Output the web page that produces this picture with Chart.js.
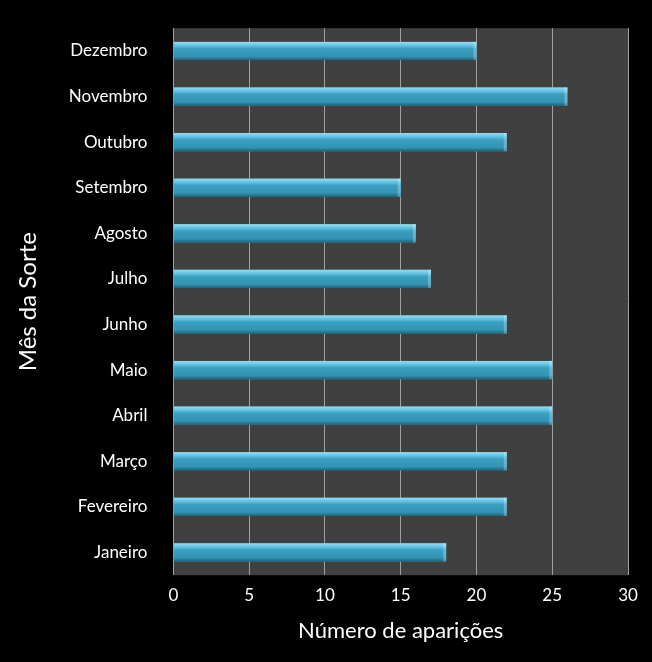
<!DOCTYPE html>
<html><head><meta charset="utf-8">
<script src="https://cdn.jsdelivr.net/npm/chart.js@4"></script>
<style>html,body{margin:0;background:#000;}#w{width:652px;height:662px;}</style>
</head><body><div id="w"><canvas id="c"></canvas></div>
<script>
const categories=["Dezembro","Novembro","Outubro","Setembro","Agosto","Julho","Junho","Maio","Abril","Março","Fevereiro","Janeiro"];
const values=[20,26,22,15,16,17,22,25,25,22,22,18];
const xTicks=[0,5,10,15,20,25,30];
const bgPlugin={id:'bg',beforeDraw(ch){const a=ch.chartArea,c=ch.ctx;c.save();c.fillStyle='#404040';c.fillRect(a.left,a.top,a.right-a.left,a.bottom-a.top);c.restore();},
afterDatasetsDraw(ch){const c=ch.ctx;ch.getDatasetMeta(0).data.forEach(el=>{
  const t=el.y-el.height/2,b=el.y+el.height/2,l=Math.min(el.base,el.x),r=Math.max(el.base,el.x);
  const g=c.createLinearGradient(0,t,0,b);
  g.addColorStop(0,'#9adcf2');g.addColorStop(0.22,'#5cc0e0');g.addColorStop(0.38,'#3a9fc0');g.addColorStop(0.8,'#3393b2');g.addColorStop(1,'#1d6278');
  c.save();c.fillStyle=g;c.fillRect(l,t,r-l,b-t);
  c.fillStyle='rgba(255,255,255,0.25)';c.fillRect(r-3,t,3,b-t);c.restore();});}};
new Chart(document.getElementById('c'),{type:'bar',
data:{labels:categories,datasets:[{data:values,backgroundColor:'#3a9ab8',categoryPercentage:1,barPercentage:0.4}]},
options:{indexAxis:'y',responsive:true,maintainAspectRatio:false,animation:false,
layout:{padding:{top:2,right:24,bottom:14,left:10}},
plugins:{legend:{display:false},tooltip:{enabled:false}},
scales:{
x:{min:0,max:30,afterBuildTicks(s){s.ticks=xTicks.map(v=>({value:v}));},
 grid:{color:'#a0a0a0',lineWidth:1,drawTicks:false},border:{display:false},
 ticks:{color:'#fff',font:{family:'Lato',size:17},padding:10},
 title:{display:true,text:'Número de aparições',color:'#fff',font:{family:'Lato',size:22},padding:{top:2}}},
y:{grid:{display:false},border:{display:false},
 ticks:{color:'#fff',font:{family:'Lato',size:17},padding:18},
 title:{display:true,text:'Mês da Sorte',color:'#fff',font:{family:'Lato',size:24},padding:{bottom:8}}}
}},plugins:[bgPlugin]});
</script></body></html>
